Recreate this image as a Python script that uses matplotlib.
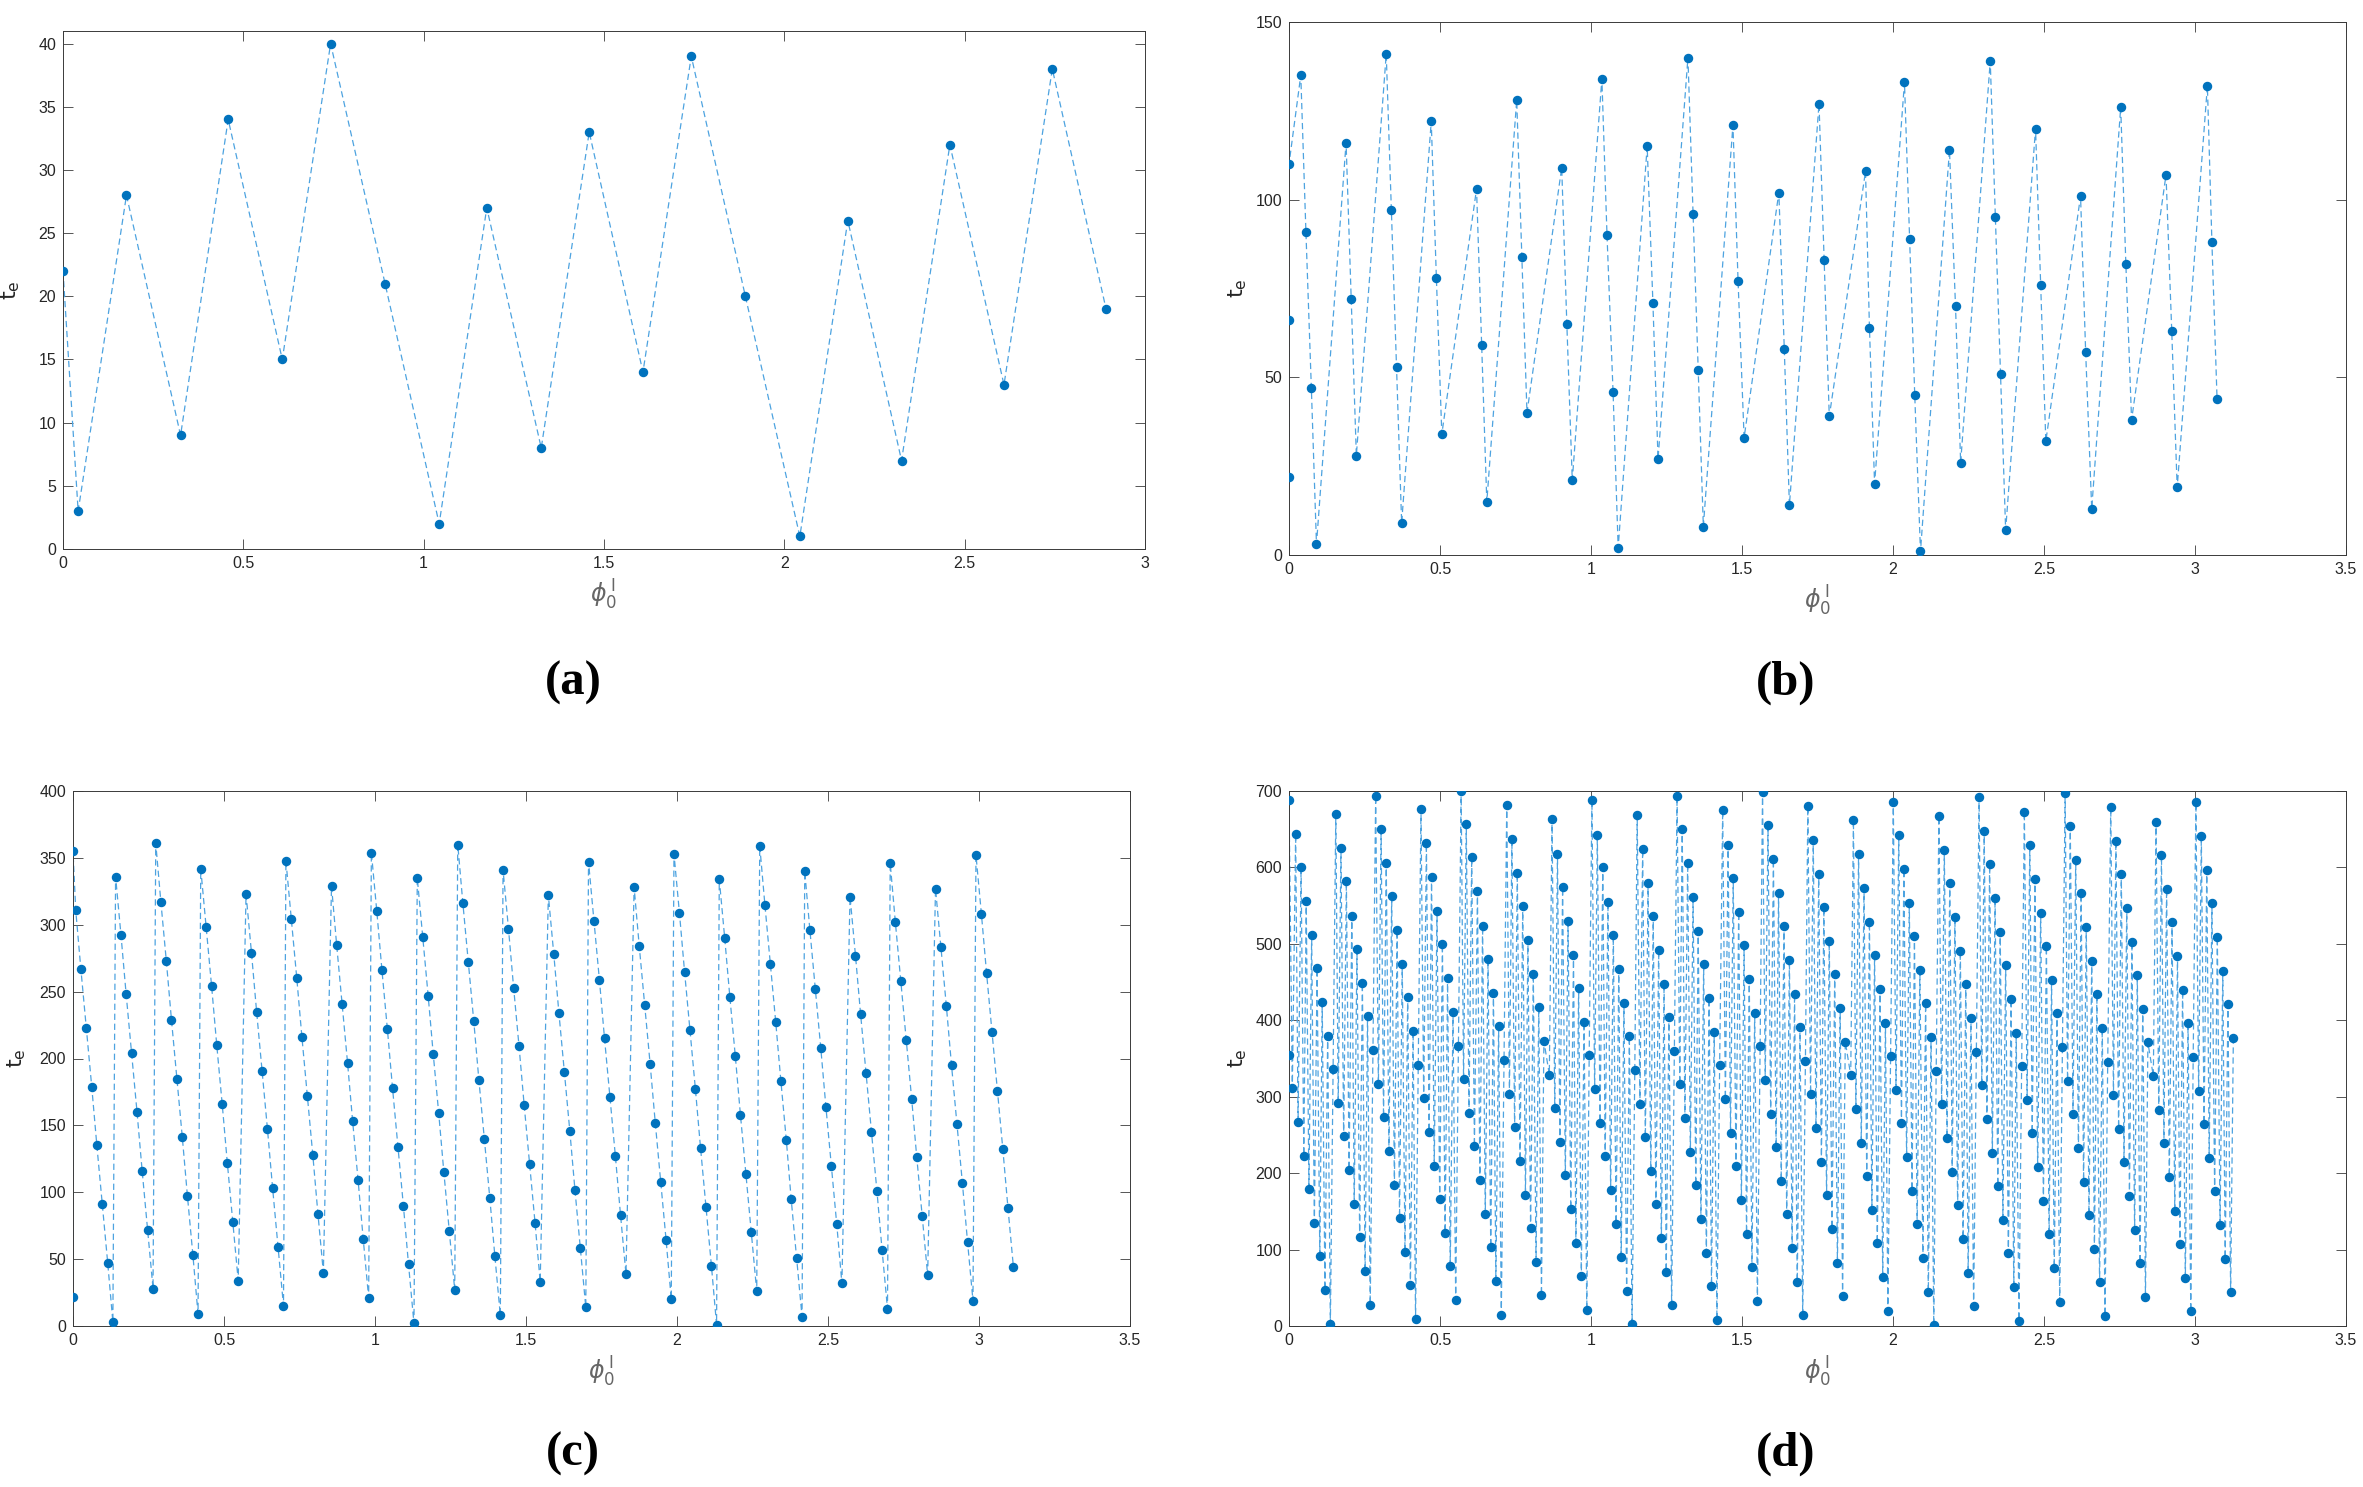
import matplotlib
matplotlib.use("Agg")
import matplotlib.pyplot as plt

plt.rcParams['mathtext.fontset'] = 'dejavusans'

# ---------------- data ----------------
xa = [0.000, 0.042, 0.176, 0.326, 0.458, 0.608, 0.742, 0.893, 1.043, 1.175, 1.326,
      1.459, 1.608, 1.742, 1.892, 2.043, 2.176, 2.325, 2.459, 2.609, 2.743, 2.892]
ya = [22, 3, 28, 9, 34, 15, 40, 21, 2, 27, 8, 33, 14, 39, 20, 1, 26, 7, 32, 13, 38, 19]

xb = [0.000, 0.000, 0.000, 0.039, 0.056, 0.074, 0.091, 0.189, 0.206, 0.223, 0.322, 0.339,
      0.356, 0.373, 0.471, 0.488, 0.506, 0.621, 0.638, 0.655, 0.754, 0.771, 0.788, 0.903,
      0.920, 0.938, 1.036, 1.053, 1.073, 1.090, 1.186, 1.205, 1.222, 1.321, 1.338, 1.355,
      1.372, 1.470, 1.487, 1.507, 1.622, 1.640, 1.657, 1.755, 1.772, 1.789, 1.909, 1.922,
      1.939, 2.038, 2.055, 2.072, 2.091, 2.187, 2.207, 2.224, 2.322, 2.339, 2.356, 2.373,
      2.472, 2.489, 2.506, 2.621, 2.638, 2.658, 2.754, 2.771, 2.790, 2.904, 2.923, 2.941,
      3.041, 3.056, 3.073]
yb = [22, 66, 110, 135, 91, 47, 3, 116, 72, 28, 141, 97, 53, 9, 122, 78, 34, 103, 59, 15,
      128, 84, 40, 109, 65, 21, 134, 90, 46, 2, 115, 71, 27, 140, 96, 52, 8, 121, 77, 33,
      102, 58, 14, 127, 83, 39, 108, 64, 20, 133, 89, 45, 1, 114, 70, 26, 139, 95, 51, 7,
      120, 76, 32, 101, 57, 13, 126, 82, 38, 107, 63, 19, 132, 88, 44]

xc = [0.000, 0.000, 0.009, 0.026, 0.044, 0.062, 0.079, 0.097, 0.115, 0.132, 0.141, 0.159,
      0.176, 0.194, 0.212, 0.229, 0.247, 0.265, 0.274, 0.291, 0.309, 0.326, 0.344, 0.362,
      0.379, 0.397, 0.414, 0.423, 0.441, 0.459, 0.476, 0.494, 0.511, 0.529, 0.547, 0.573,
      0.591, 0.608, 0.626, 0.644, 0.661, 0.679, 0.697, 0.705, 0.723, 0.741, 0.758, 0.776,
      0.794, 0.811, 0.829, 0.856, 0.873, 0.891, 0.909, 0.926, 0.944, 0.961, 0.979, 0.988,
      1.006, 1.023, 1.041, 1.058, 1.076, 1.094, 1.111, 1.129, 1.140, 1.158, 1.176, 1.193,
      1.211, 1.228, 1.246, 1.264, 1.274, 1.291, 1.309, 1.327, 1.344, 1.362, 1.380, 1.397,
      1.415, 1.424, 1.442, 1.459, 1.477, 1.494, 1.512, 1.530, 1.547, 1.574, 1.592, 1.609,
      1.627, 1.645, 1.662, 1.680, 1.698, 1.707, 1.725, 1.743, 1.760, 1.778, 1.796, 1.813,
      1.831, 1.858, 1.875, 1.893, 1.911, 1.928, 1.946, 1.964, 1.981, 1.990, 2.008, 2.025,
      2.043, 2.061, 2.078, 2.096, 2.114, 2.131, 2.140, 2.158, 2.175, 2.193, 2.210, 2.228,
      2.246, 2.264, 2.274, 2.291, 2.309, 2.327, 2.344, 2.362, 2.378, 2.396, 2.414, 2.423,
      2.440, 2.458, 2.476, 2.493, 2.511, 2.529, 2.546, 2.573, 2.591, 2.608, 2.626, 2.644,
      2.662, 2.679, 2.697, 2.706, 2.723, 2.741, 2.759, 2.777, 2.794, 2.812, 2.830, 2.856,
      2.874, 2.892, 2.909, 2.927, 2.945, 2.962, 2.980, 2.990, 3.008, 3.025, 3.043, 3.061,
      3.079, 3.096, 3.114]
yc = [22, 355, 311, 267, 223, 179, 135, 91, 47, 3, 336, 292, 248, 204, 160, 116, 72, 28,
      361, 317, 273, 229, 185, 141, 97, 53, 9, 342, 298, 254, 210, 166, 122, 78, 34, 323,
      279, 235, 191, 147, 103, 59, 15, 348, 304, 260, 216, 172, 128, 84, 40, 329, 285, 241,
      197, 153, 109, 65, 21, 354, 310, 266, 222, 178, 134, 90, 46, 2, 335, 291, 247, 203,
      159, 115, 71, 27, 360, 316, 272, 228, 184, 140, 96, 52, 8, 341, 297, 253, 209, 165,
      121, 77, 33, 322, 278, 234, 190, 146, 102, 58, 14, 347, 303, 259, 215, 171, 127, 83,
      39, 328, 284, 240, 196, 152, 108, 64, 20, 353, 309, 265, 221, 177, 133, 89, 45, 1,
      334, 290, 246, 202, 158, 114, 70, 26, 359, 315, 271, 227, 183, 139, 95, 51, 7, 340,
      296, 252, 208, 164, 120, 76, 32, 321, 277, 233, 189, 145, 101, 57, 13, 346, 302, 258,
      214, 170, 126, 82, 38, 327, 283, 239, 195, 151, 107, 63, 19, 352, 308, 264, 220, 176,
      132, 88, 44]

xd = [0.000, 0.000, 0.011, 0.022, 0.030, 0.040, 0.049, 0.057, 0.066, 0.075, 0.084, 0.093,
      0.102, 0.110, 0.119, 0.128, 0.137, 0.146, 0.155, 0.163, 0.172, 0.181, 0.190, 0.199,
      0.208, 0.216, 0.225, 0.234, 0.243, 0.252, 0.260, 0.269, 0.278, 0.287, 0.296, 0.305,
      0.313, 0.322, 0.331, 0.340, 0.349, 0.358, 0.366, 0.375, 0.384, 0.393, 0.402, 0.411,
      0.419, 0.428, 0.437, 0.446, 0.455, 0.464, 0.472, 0.481, 0.490, 0.499, 0.508, 0.517,
      0.525, 0.534, 0.543, 0.552, 0.561, 0.570, 0.578, 0.587, 0.596, 0.605, 0.614, 0.624,
      0.632, 0.641, 0.650, 0.659, 0.668, 0.677, 0.685, 0.694, 0.703, 0.712, 0.721, 0.730,
      0.738, 0.747, 0.756, 0.765, 0.774, 0.783, 0.791, 0.800, 0.809, 0.818, 0.827, 0.836,
      0.844, 0.862, 0.871, 0.880, 0.889, 0.897, 0.906, 0.915, 0.924, 0.933, 0.942, 0.950,
      0.959, 0.968, 0.977, 0.986, 0.994, 1.003, 1.012, 1.021, 1.030, 1.039, 1.047, 1.056,
      1.065, 1.074, 1.083, 1.092, 1.100, 1.109, 1.118, 1.127, 1.136, 1.145, 1.153, 1.162,
      1.171, 1.180, 1.189, 1.198, 1.206, 1.215, 1.224, 1.233, 1.242, 1.249, 1.258, 1.267,
      1.276, 1.285, 1.294, 1.302, 1.311, 1.320, 1.329, 1.338, 1.347, 1.355, 1.364, 1.373,
      1.382, 1.391, 1.399, 1.408, 1.417, 1.426, 1.436, 1.445, 1.454, 1.462, 1.471, 1.480,
      1.489, 1.498, 1.507, 1.515, 1.524, 1.533, 1.542, 1.551, 1.560, 1.568, 1.577, 1.586,
      1.595, 1.604, 1.613, 1.621, 1.630, 1.639, 1.648, 1.657, 1.666, 1.674, 1.683, 1.692,
      1.701, 1.710, 1.718, 1.727, 1.736, 1.745, 1.754, 1.763, 1.771, 1.780, 1.789, 1.798,
      1.807, 1.816, 1.825, 1.833, 1.842, 1.860, 1.869, 1.877, 1.886, 1.895, 1.904, 1.913,
      1.922, 1.930, 1.939, 1.948, 1.957, 1.966, 1.975, 1.983, 1.992, 2.001, 2.010, 2.019,
      2.028, 2.036, 2.045, 2.054, 2.063, 2.071, 2.080, 2.089, 2.099, 2.108, 2.117, 2.126,
      2.135, 2.143, 2.152, 2.161, 2.170, 2.179, 2.188, 2.196, 2.205, 2.214, 2.223, 2.232,
      2.241, 2.249, 2.258, 2.267, 2.276, 2.285, 2.294, 2.302, 2.311, 2.320, 2.329, 2.338,
      2.347, 2.355, 2.364, 2.373, 2.382, 2.391, 2.400, 2.408, 2.417, 2.426, 2.435, 2.444,
      2.453, 2.461, 2.470, 2.479, 2.489, 2.498, 2.508, 2.517, 2.525, 2.534, 2.543, 2.552,
      2.561, 2.570, 2.578, 2.587, 2.596, 2.605, 2.614, 2.623, 2.631, 2.640, 2.649, 2.658,
      2.667, 2.675, 2.684, 2.693, 2.702, 2.711, 2.721, 2.730, 2.738, 2.747, 2.756, 2.765,
      2.774, 2.783, 2.791, 2.800, 2.809, 2.818, 2.827, 2.836, 2.844, 2.862, 2.871, 2.880,
      2.889, 2.897, 2.906, 2.915, 2.924, 2.933, 2.942, 2.950, 2.959, 2.968, 2.977, 2.986,
      2.994, 3.003, 3.012, 3.021, 3.030, 3.039, 3.047, 3.056, 3.065, 3.074, 3.083, 3.092,
      3.100, 3.109, 3.118, 3.127]
yd = [355, 688, 311, 644, 267, 600, 223, 556, 179, 512, 135, 468, 91, 424, 47, 380, 3, 336,
      670, 292, 626, 248, 582, 204, 537, 160, 493, 116, 449, 72, 405, 28, 361, 694, 317, 650,
      273, 606, 229, 562, 185, 518, 141, 474, 97, 430, 53, 386, 9, 342, 676, 298, 632, 254,
      587, 210, 543, 166, 500, 122, 455, 78, 411, 34, 367, 700, 323, 657, 279, 613, 235, 569,
      191, 524, 147, 480, 103, 436, 59, 392, 15, 348, 682, 304, 637, 260, 593, 216, 549, 172,
      505, 128, 461, 84, 417, 40, 373, 329, 663, 285, 618, 241, 574, 197, 530, 153, 486, 109,
      442, 65, 398, 21, 354, 688, 310, 643, 266, 600, 222, 555, 178, 511, 134, 467, 90, 423,
      46, 379, 2, 335, 669, 291, 624, 247, 580, 203, 536, 159, 492, 115, 448, 71, 404, 27,
      360, 693, 316, 650, 272, 606, 228, 561, 184, 517, 140, 473, 96, 429, 52, 385, 8, 341,
      675, 297, 630, 253, 586, 209, 542, 165, 498, 121, 454, 77, 410, 33, 366, 699, 322, 655,
      278, 611, 234, 567, 190, 523, 146, 479, 102, 435, 58, 391, 14, 347, 680, 303, 636, 259,
      592, 215, 548, 171, 504, 127, 460, 83, 416, 39, 372, 328, 662, 284, 618, 240, 573, 196,
      529, 152, 485, 108, 441, 64, 397, 20, 353, 686, 309, 642, 265, 598, 221, 554, 177, 510,
      133, 466, 89, 422, 45, 378, 1, 334, 667, 290, 623, 246, 579, 202, 535, 158, 491, 114,
      447, 70, 403, 26, 359, 692, 315, 648, 271, 604, 227, 560, 183, 516, 139, 472, 95, 428,
      51, 384, 7, 340, 673, 296, 629, 252, 585, 208, 541, 164, 497, 120, 453, 76, 409, 32,
      365, 698, 321, 654, 277, 610, 233, 566, 189, 522, 145, 478, 101, 434, 57, 390, 13, 346,
      679, 302, 635, 258, 591, 214, 547, 170, 503, 126, 459, 82, 415, 38, 371, 327, 660, 283,
      616, 239, 572, 195, 528, 151, 484, 107, 440, 63, 396, 19, 352, 685, 308, 641, 264, 597,
      220, 553, 176, 509, 132, 465, 88, 421, 44, 377]

panel_labels = ['(a)', '(b)', '(c)', '(d)']

xticks_a = [0, 0.5, 1, 1.5, 2, 2.5, 3]
xticks_bcd = [0, 0.5, 1, 1.5, 2, 2.5, 3, 3.5]
yticks_a = [0, 5, 10, 15, 20, 25, 30, 35, 40]
yticks_b = [0, 50, 100, 150]
yticks_c = [0, 50, 100, 150, 200, 250, 300, 350, 400]
yticks_d = [0, 100, 200, 300, 400, 500, 600, 700]

# ---------------- figure ----------------
W, H = 2363, 1487
fig = plt.figure(figsize=(W / 100, H / 100), dpi=100)
fig.patch.set_facecolor('white')

MARK = '#0072BD'
LINE = '#4DA3E0'
AXC = '#3a3a3a'
TICKFONT = ['Liberation Sans Narrow', 'Liberation Sans', 'DejaVu Sans']


def add_panel(box, x, y, xlim, ylim, xticks, yticks, ylab_x, xlab_y, label, label_xy):
    l, r, t, b = box
    ax = fig.add_axes([l / W, 1 - b / H, (r - l) / W, (b - t) / H])
    ax.plot(x, y, linestyle=(0, (5, 3)), color=LINE, linewidth=0.9, zorder=2)
    ax.plot(x, y, linestyle='none', marker='o', markersize=5.8,
            markerfacecolor=MARK, markeredgecolor=MARK, zorder=3)
    ax.set_xlim(*xlim)
    ax.set_ylim(*ylim)
    ax.set_xticks(xticks)
    ax.set_yticks(yticks)
    ax.set_xticklabels(['%g' % v for v in xticks])
    ax.set_yticklabels(['%g' % v for v in yticks])
    ax.tick_params(direction='in', length=7, width=0.6, color=AXC,
                   top=True, right=True, labelsize=11.5, labelcolor='#262626', pad=5)
    for lab in ax.get_xticklabels() + ax.get_yticklabels():
        lab.set_family(TICKFONT)
    for s in ax.spines.values():
        s.set_color(AXC)
        s.set_linewidth(0.7)
    ax.set_ylabel(r'$\mathrm{t}_\mathrm{e}$', fontsize=16, color='#262626')
    ax.yaxis.set_label_coords((ylab_x - l) / (r - l), 0.5)
    ax.set_xlabel(r'$\phi_0^{\,\mathrm{I}}$', fontsize=17, color='#666666')
    ax.xaxis.set_label_coords(0.5, -(xlab_y - b) / (b - t))
    fig.text(label_xy[0] / W, 1 - label_xy[1] / H, label, ha='center', va='center',
             fontsize=35, fontweight='bold', family=['Liberation Serif', 'DejaVu Serif'],
             color='black')
    return ax


add_panel((63, 1145, 31, 549), xa, ya, (0, 3), (0, 41), xticks_a, yticks_a,
          22, 578, panel_labels[0], (573, 683))
add_panel((1289, 2346, 22, 555), xb, yb, (0, 3.5), (0, 150), xticks_bcd, yticks_b,
          1249, 584, panel_labels[1], (1786, 683))
add_panel((73, 1130, 791, 1326), xc, yc, (0, 3.5), (0, 400), xticks_bcd, yticks_c,
          28, 1355, panel_labels[2], (573, 1454))
add_panel((1289, 2346, 791, 1326), xd, yd, (0, 3.5), (0, 700), xticks_bcd, yticks_d,
          1249, 1355, panel_labels[3], (1786, 1454))

fig.savefig('out.png', dpi=100, facecolor='white')
